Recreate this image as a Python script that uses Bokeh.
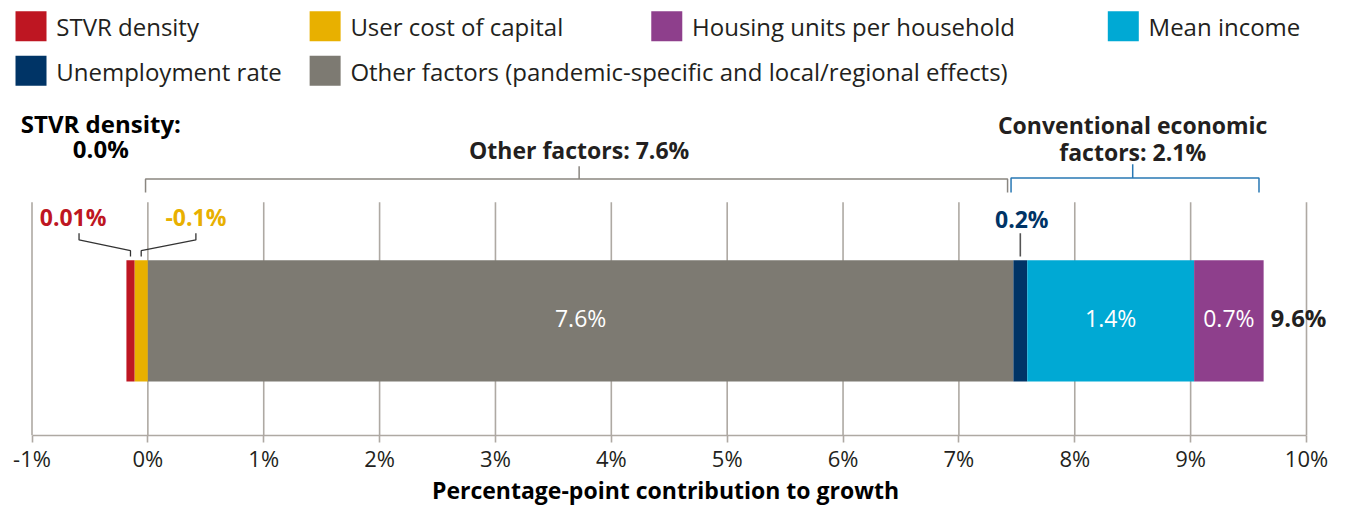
from bokeh.plotting import figure
from bokeh.models import Range1d, FixedTicker, ColumnDataSource
from bokeh.core.properties import value
from bokeh.embed import file_html
from bokeh.resources import INLINE

# ---------------- data ----------------
categories = ["STVR density", "User cost of capital", "Other factors",
              "Unemployment rate", "Mean income", "Housing units per household"]
legend_names = ["STVR density", "User cost of capital", "Housing units per household",
                "Mean income", "Unemployment rate",
                "Other factors (pandemic-specific and local/regional effects)"]
# drawn extent of each segment (percentage points)
neg_order = ["User cost of capital", "STVR density"]          # stacked leftwards from 0
neg_values = [-0.115, -0.07]
pos_order = ["Other factors", "Unemployment rate", "Mean income", "Housing units per household"]
pos_values = [7.47, 0.12, 1.44, 0.60]
value_labels = {"STVR density": "0.01%", "User cost of capital": "-0.1%",
                "Other factors": "7.6%", "Unemployment rate": "0.2%",
                "Mean income": "1.4%", "Housing units per household": "0.7%"}
total_label = "9.6%"
group_labels = ["Other factors: 7.6%", "Conventional economic", "factors: 2.1%"]
stvr_note = ["STVR density:", "0.0%"]
tick_values = list(range(-1, 11))
tick_labels = [f"{t}%" for t in tick_values]
axis_title = "Percentage-point contribution to growth"

colors = {"STVR density": "#BE1622", "User cost of capital": "#E8B000",
          "Housing units per household": "#8E3F8C", "Mean income": "#00A9D4",
          "Unemployment rate": "#003466", "Other factors": "#7D7A72"}
legend_colors = [colors["STVR density"], colors["User cost of capital"],
                 colors["Housing units per household"], colors["Mean income"],
                 colors["Unemployment rate"], colors["Other factors"]]

FONT = value("Open Sans")
TXT = "#231F20"
GRID = "#AEA9A3"
BLUE = "#2878B4"

# ---------------- layout helpers ----------------
W, H = 1330, 509
s = (1306 - 31.5) / 11.0
x0 = -1 - 31.5 / s
x1 = 10 + (W - 1306) / s
KY = H / 525.0


def X(ref):  # horizontal layout position (reference pixel -> data)
    return (ref - 148.5) / 117.0


def Y(ref):  # vertical layout position (reference pixel -> screen px in frame)
    return ref * KY


FRAME_BOTTOM = round(Y(449))

p = figure(width=W, height=H, x_range=Range1d(x0, x1), y_range=Range1d(FRAME_BOTTOM, 0),
           y_axis_location=None, toolbar_location=None, output_backend="svg",
           min_border_left=0, min_border_right=0, min_border_top=0,
           min_border_bottom=H - FRAME_BOTTOM)
p.outline_line_color = None
p.xgrid.visible = False
p.ygrid.visible = False
p.background_fill_color = "white"

# gridlines (behind bars)
p.segment(x0=tick_values, x1=tick_values, y0=[Y(208)] * len(tick_values),
          y1=[FRAME_BOTTOM] * len(tick_values), line_color=GRID, line_width=1.6)

# ---------------- stacked bar ----------------
lefts, rights, names = [], [], []
acc = 0.0
for n, v in zip(neg_order, neg_values):
    lefts.append(acc + v); rights.append(acc); names.append(n); acc += v
acc = 0.0
for n, v in zip(pos_order, pos_values):
    lefts.append(acc); rights.append(acc + v); names.append(n); acc += v
total = acc
seg = {n: (l, r) for n, l, r in zip(names, lefts, rights)}
bar_y = (Y(268) + Y(393)) / 2
bar_h = Y(393) - Y(268)
src = ColumnDataSource(dict(left=lefts, right=rights, y=[bar_y] * len(names),
                            color=[colors[n] for n in names], name=names))
p.hbar(y="y", left="left", right="right", height=bar_h, fill_color="color",
       line_color=None, source=src)


def center(n):
    l, r = seg[n]
    return (l + r) / 2


# inside labels
inside = ["Other factors", "Mean income", "Housing units per household"]
p.text(x=[center(n) for n in inside], y=[bar_y - 3] * len(inside),
       text=[value_labels[n] for n in inside], text_color="white",
       text_font=FONT, text_font_size="23px", text_align="center",
       text_baseline="middle")
p.text(x=[seg["Housing units per household"][1] + 0.06], y=[bar_y - 3], text=[total_label],
       text_color=TXT, text_font=FONT, text_font_size="24px", text_font_style="bold",
       text_align="left", text_baseline="middle")

# ---------------- leader lines and small labels ----------------
top_y = Y(264)
c_red, c_yel, c_nav = center("STVR density"), center("User cost of capital"), center("Unemployment rate")
p.line(x=[X(79), X(79), c_red, c_red], y=[Y(240), Y(247), Y(258), top_y],
       line_color="#333333", line_width=1.3)
p.line(x=[X(197), X(197), c_yel, c_yel], y=[Y(240), Y(247), Y(258), top_y],
       line_color="#333333", line_width=1.3)
p.line(x=[c_nav, c_nav], y=[Y(240), top_y], line_color="#555555", line_width=1.6)

small = [("STVR density", X(73), Y(223)), ("User cost of capital", X(197), Y(223)),
         ("Unemployment rate", X(1031), Y(225))]
for n, xx, yy in small:
    p.text(x=[xx], y=[yy], text=[value_labels[n]], text_color=colors[n], text_font=FONT,
           text_font_size="23px", text_font_style="bold", text_align="center",
           text_baseline="middle")

# ---------------- brackets ----------------
ol, orr = seg["Other factors"][0] - 0.02, seg["Other factors"][1] - 0.05
om = X(584)
p.multi_line(xs=[[ol, ol, orr, orr], [om, om]],
             ys=[[Y(198), Y(184), Y(184), Y(198)], [Y(184), Y(171)]],
             line_color="#8A8680", line_width=1.5)
cl, cr = seg["Unemployment rate"][0] - 0.02, seg["Housing units per household"][1] - 0.04
cm = X(1143)
p.multi_line(xs=[[cl, cl, cr, cr], [cm, cm]],
             ys=[[Y(198), Y(183), Y(183), Y(198)], [Y(183), Y(169)]],
             line_color=BLUE, line_width=1.5)

# group labels
p.text(x=[om, cm, cm], y=[Y(154), Y(128), Y(156)], text=group_labels, text_color=TXT,
       text_font=FONT, text_font_size="23px", text_font_style="bold",
       text_align="center", text_baseline="middle")
p.text(x=[X(101), X(101)], y=[Y(127), Y(153)], text=stvr_note, text_color="#000000",
       text_font=FONT, text_font_size="24px", text_font_style="bold",
       text_align="center", text_baseline="middle")

# ---------------- legend ----------------
leg_pos = [(15, 11), (312, 11), (657, 11), (1118, 11), (15, 57), (312, 57)]
for name, col, (lx, ly) in zip(legend_names, legend_colors, leg_pos):
    p.rect(x=[X(lx + 15.5)], y=[Y(ly + 15.5)], width=31, height=30, width_units="screen",
           height_units="screen", fill_color=col, line_color=None)
    p.text(x=[X(lx + 41)], y=[Y(ly + 16)], text=[name], text_color=TXT, text_font=FONT,
           text_font_size="24px", text_align="left", text_baseline="middle")

# ---------------- axis ----------------
ax = p.xaxis[0]
ax.ticker = FixedTicker(ticks=tick_values)
ax.major_label_overrides = {t: l for t, l in zip(tick_values, tick_labels)}
ax.bounds = (-1, 10)
ax.axis_line_color = GRID
ax.axis_line_width = 1.6
ax.major_tick_line_color = GRID
ax.major_tick_line_width = 1.6
ax.major_tick_out = 7
ax.major_tick_in = 0
ax.minor_tick_line_color = None
ax.major_label_text_font = "Open Sans"
ax.major_label_text_font_size = "22px"
ax.major_label_text_color = TXT
ax.major_label_standoff = 0
ax.axis_label = axis_title
ax.axis_label_text_font = "Open Sans"
ax.axis_label_text_font_size = "23px"
ax.axis_label_text_font_style = "bold"
ax.axis_label_text_color = "#000000"
ax.axis_label_standoff = -2

open("out.html", "w").write(file_html(p, INLINE))
